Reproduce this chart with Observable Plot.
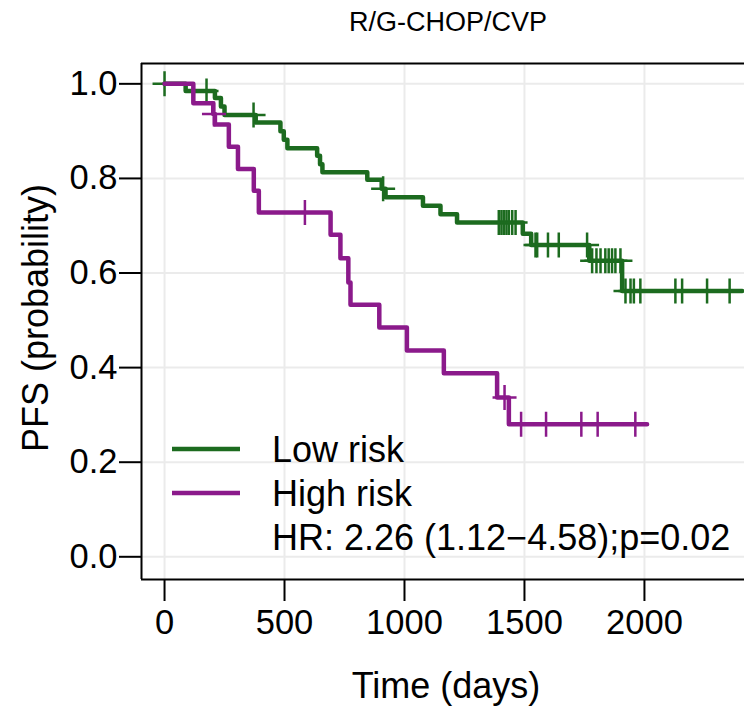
<!DOCTYPE html>
<html><head><meta charset="utf-8">
<script src="https://cdn.jsdelivr.net/npm/d3@7"></script>
<script src="https://cdn.jsdelivr.net/npm/@observablehq/plot@0.6"></script>
<style>
body{margin:0;background:#fff;}
#chart{position:relative;width:744px;height:706px;overflow:hidden}
</style></head><body><div id="chart"></div>
<script>
const title = "R/G-CHOP/CVP";
const xLabel = "Time (days)";
const yLabel = "PFS (probability)";
const groups = ["Low risk", "High risk"];
const hrText = "HR: 2.26 (1.12\u22124.58);p=0.02";
const xTicks = [0, 500, 1000, 1500, 2000];
const yTicks = [0, 0.2, 0.4, 0.6, 0.8, 1.0];

// Low risk: event times and survival after each step
const lowTime = [0, 88, 210, 235, 250, 380, 483, 497, 512, 636, 648, 658, 845, 905, 921, 1077, 1150, 1219, 1493, 1528, 1770, 1907, 2407];
const lowSurv = [1.0, 0.985, 0.970, 0.952, 0.934, 0.918, 0.900, 0.882, 0.864, 0.848, 0.830, 0.813, 0.797, 0.778, 0.760, 0.742, 0.7245, 0.707, 0.683, 0.659, 0.626, 0.562, 0.562];
const lowCensor = [0, 175, 371, 911, 1393, 1404, 1414, 1425, 1435, 1449, 1463, 1546, 1553, 1598, 1643, 1761, 1782, 1800, 1817, 1837, 1851, 1865, 1879, 1900, 1921, 1942, 1956, 1983, 2129, 2157, 2261, 2355];

// High risk
const highTime = [0, 120, 203, 210, 268, 306, 372, 393, 692, 733, 766, 775, 895, 1010, 1164, 1386, 1435, 2011];
const highSurv = [1.0, 0.959, 0.936, 0.914, 0.867, 0.820, 0.774, 0.728, 0.681, 0.631, 0.580, 0.533, 0.485, 0.436, 0.388, 0.337, 0.2805, 0.2805];
const highCensor = [206, 585, 1417, 1486, 1590, 1737, 1805, 1962];

const colors = ["#1c6b1f", "#8b1a8b"];
const xDomain = [-96, 2417];
const yDomain = [-0.048, 1.043];

function survAt(times, survs, t) {
  let s = survs[0];
  for (let i = 0; i < times.length; i++) if (times[i] <= t) s = survs[i];
  return s;
}
const lowSteps = lowTime.map((t, i) => ({time: t, surv: lowSurv[i]}));
const highSteps = highTime.map((t, i) => ({time: t, surv: highSurv[i]}));
const lowMarks = lowCensor.map(t => ({time: t, surv: survAt(lowTime, lowSurv, t)}));
const highMarks = highCensor.map(t => ({time: t, surv: survAt(highTime, highSurv, t)}));

const cross = {draw(ctx) { ctx.moveTo(-12, 0); ctx.lineTo(12, 0); ctx.moveTo(0, -12.5); ctx.lineTo(0, 12.5); }};
const FONT = "'Liberation Sans', Arial, Helvetica, sans-serif";

const plot = Plot.plot({
  width: 744, height: 706,
  marginLeft: 141, marginRight: 0, marginTop: 63, marginBottom: 127,
  style: {fontFamily: FONT, fontSize: "34px", color: "#000", background: "#fff", overflow: "visible"},
  x: {domain: xDomain, range: [141, 744]},
  y: {domain: yDomain},
  marks: [
    Plot.gridX(xTicks, {stroke: "#ebebeb", strokeOpacity: 1, strokeWidth: 2}),
    Plot.gridY(yTicks, {stroke: "#ebebeb", strokeOpacity: 1, strokeWidth: 2}),
    Plot.axisX(xTicks, {tickSize: 22, tickPadding: 8, tickFormat: d => String(d), label: null, fontSize: 34.5, strokeWidth: 2}),
    Plot.axisY(yTicks, {tickSize: 22, tickPadding: 2, tickFormat: d3.format(".1f"), label: null, fontSize: 34.5, strokeWidth: 2}),
    Plot.line(lowSteps, {x: "time", y: "surv", curve: "step-after", stroke: colors[0], strokeWidth: 4.5}),
    Plot.dot(lowMarks, {x: "time", y: "surv", symbol: cross, r: 12, fill: "none", stroke: colors[0], strokeWidth: 2.5}),
    Plot.line(highSteps, {x: "time", y: "surv", curve: "step-after", stroke: colors[1], strokeWidth: 4.5}),
    Plot.dot(highMarks, {x: "time", y: "surv", symbol: cross, r: 12, fill: "none", stroke: colors[1], strokeWidth: 2.5}),
    Plot.ruleX([xDomain[0]], {stroke: "#000", strokeWidth: 2}),
    Plot.ruleY([yDomain[0], yDomain[1]], {stroke: "#000", strokeWidth: 2})
  ]
});
document.getElementById("chart").appendChild(plot);

const svg = d3.select(plot);
svg.append("text").attr("x", 448).attr("y", 31).attr("text-anchor", "middle")
  .attr("font-family", FONT).attr("font-size", 27).attr("fill", "#000").text(title);
svg.append("text").attr("x", 446).attr("y", 698).attr("text-anchor", "middle")
  .attr("font-family", FONT).attr("font-size", 36).attr("fill", "#000").text(xLabel);
svg.append("text").attr("transform", "translate(48,318) rotate(-90)").attr("text-anchor", "middle")
  .attr("font-family", FONT).attr("font-size", 36).attr("fill", "#000").text(yLabel);

const leg = svg.append("g").attr("text-anchor", "start");
groups.forEach((g, i) => {
  const y = 449 + i * 44;
  leg.append("line").attr("x1", 172).attr("x2", 240).attr("y1", y).attr("y2", y)
    .attr("stroke", colors[i]).attr("stroke-width", 4.5);
  leg.append("text").attr("x", 272).attr("y", y + 13).attr("text-anchor", "start").attr("font-family", FONT)
    .attr("font-size", 36).attr("fill", "#000").text(g);
});
leg.append("text").attr("x", 272).attr("y", 449 + 2 * 44 + 13).attr("text-anchor", "start").attr("font-family", FONT)
  .attr("font-size", 36).attr("fill", "#000").text(hrText);
</script></body></html>
